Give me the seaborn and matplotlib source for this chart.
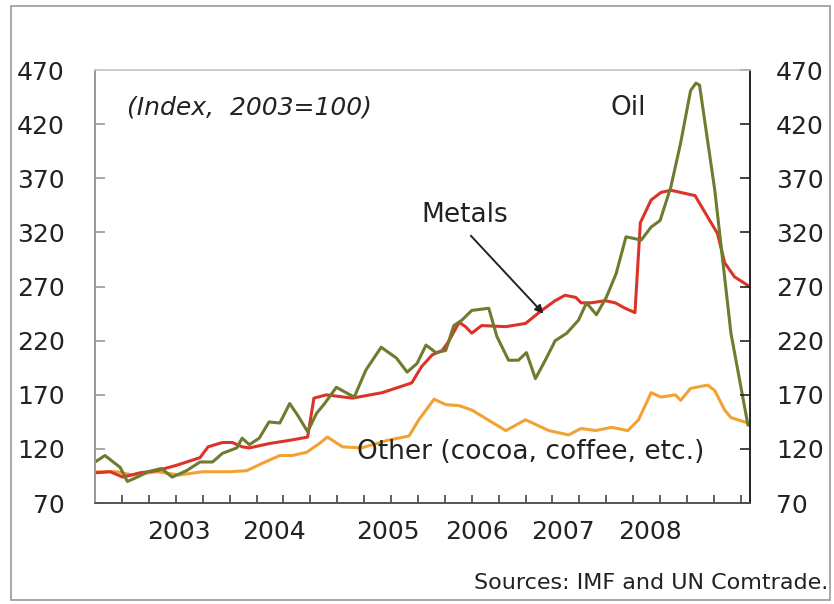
import matplotlib
matplotlib.use("Agg")
from matplotlib import pyplot as plt
from matplotlib.patches import Rectangle
import pandas as pd
import seaborn as sns

# months counted from the left edge of the chart, values as index (2003=100)
oil_month = [0, 1.1, 2.8, 3.6, 4.7, 5.9, 7.4, 8.6, 10.2, 11.7, 13.1, 14.2, 15.8, 16.4, 17.2,
             18.3, 19.4, 20.6, 21.7, 22.6, 23.7, 24.7, 25.6, 26.9, 28.0, 28.9, 30.2, 31.9,
             33.6, 34.8, 35.9, 36.9, 38.0, 39.1, 40.0, 40.9, 42.0, 43.9, 44.8, 46.1, 47.2,
             48.1, 49.1, 50.2, 51.3, 52.6, 53.9, 54.8, 55.9, 57.0, 58.1, 59.2, 60.9, 62.0,
             63.0, 64.2, 65.3, 66.4, 67.0, 67.4, 69.1, 70.9, 72.8]
oil_value = [108, 114, 103, 90, 94, 99, 102, 94, 100, 108, 108, 116, 121, 130, 124,
             130, 145, 144, 162, 151, 136, 153, 162, 177, 172, 168, 193, 214,
             204, 191, 199, 216, 209, 211, 234, 239, 248, 250, 224, 202, 202,
             209, 185, 202, 220, 227, 239, 255, 244, 260, 282, 316, 313, 325,
             331, 362, 403, 451, 458, 456, 359, 227, 142]

metals_month = [0, 1.7, 3.1, 5.0, 6.9, 9.1, 11.7, 12.6, 14.2, 15.3, 16.4, 17.2, 19.4, 21.7,
                23.7, 24.4, 25.8, 28.7, 32.0, 35.3, 36.4, 37.6, 38.7, 39.4, 40.6, 41.3,
                42.0, 43.1, 45.8, 48.0, 49.8, 51.3, 52.4, 53.6, 54.2, 55.3, 56.9, 58.0,
                59.1, 60.2, 60.8, 62.0, 63.1, 64.2, 66.9, 69.4, 70.2, 71.3, 73.0]
metals_value = [98, 99, 94, 98, 100, 105, 112, 122, 126, 126, 122, 121, 125, 128,
                131, 167, 170, 167, 172, 181, 196, 207, 211, 219, 237, 233,
                227, 234, 233, 236, 248, 257, 262, 260, 255, 255, 257, 255,
                250, 246, 329, 350, 357, 359, 354, 319, 292, 279, 270]

other_month = [0, 2.4, 4.2, 6.9, 9.4, 12.0, 15.0, 16.9, 18.7, 20.6, 22.0, 23.6, 25.0, 25.9,
               27.6, 29.7, 32.6, 35.0, 36.1, 37.8, 39.1, 40.6, 42.0, 43.6, 45.8, 48.0,
               50.6, 52.8, 54.2, 55.8, 57.6, 59.4, 60.6, 62.0, 63.1, 64.7, 65.3, 66.4,
               68.3, 69.1, 70.2, 70.9, 72.8]
other_value = [99, 99, 96, 99, 96, 99, 99, 100, 107, 114, 114, 117, 125, 131,
               122, 121, 128, 132, 147, 166, 161, 160, 156, 148, 137, 147,
               137, 133, 139, 137, 140, 137, 147, 172, 168, 170, 165, 176,
               179, 174, 156, 149, 144]

year_labels = ["2003", "2004", "2005", "2006", "2007", "2008"]
year_pos = [9.4, 20.0, 32.6, 42.6, 52.2, 61.9]
y_ticks = [70, 120, 170, 220, 270, 320, 370, 420, 470]

series = pd.concat([
    pd.DataFrame({"month": oil_month, "value": oil_value, "name": "Oil"}),
    pd.DataFrame({"month": metals_month, "value": metals_value, "name": "Metals"}),
    pd.DataFrame({"month": other_month, "value": other_value, "name": "Other"}),
])
colours = {"Oil": "#6f7b2e", "Metals": "#dc3328", "Other": "#f2a233"}

sns.set_style("white", {"xtick.bottom": True, "ytick.left": True})
plt.rcParams["font.family"] = ["DejaVu Sans"]

fig = plt.figure(figsize=(8.34, 6.04), dpi=100)
ax = fig.add_axes([0.114, 0.167, 0.785, 0.717])

# draw the orange first so the red and green sit on top of it
for name in ["Other", "Metals", "Oil"]:
    sns.lineplot(data=series[series["name"] == name], x="month", y="value",
                 color=colours[name], linewidth=2.2, ax=ax, sort=False,
                 estimator=None, legend=False)

ax.set_xlim(0, 73)
ax.set_ylim(70, 470)
ax.set_xlabel("")
ax.set_ylabel("")

ax2 = ax.twinx()
ax2.set_ylim(70, 470)

# quarter marks on the axis, year names between them
ax.set_xticks(range(3, 73, 3))
ax.set_xticklabels([])
ax.set_xticks(year_pos, minor=True)
ax.set_xticklabels(year_labels, minor=True, fontsize=18, color="#222222")
ax.tick_params(axis="x", which="major", bottom=True, direction="in", length=6,
               width=1.2, color="#444444")
ax.tick_params(axis="x", which="minor", bottom=True, length=0, pad=12)

ax.set_yticks(y_ticks)
ax.set_yticklabels(y_ticks, fontsize=18, color="#222222")
ax.tick_params(axis="y", left=True, direction="in", length=7, width=1.2,
               color="#999999", pad=22)

ax2.set_yticks(y_ticks)
ax2.set_yticklabels(y_ticks, fontsize=18, color="#222222")
ax2.tick_params(axis="y", right=True, direction="in", length=7, width=1.2,
                color="#222222", pad=19)

for a in (ax, ax2):
    a.spines["left"].set_color("#999999")
    a.spines["top"].set_color("#cccccc")
    a.spines["right"].set_color("#222222")
    a.spines["bottom"].set_color("#555555")
    for s in a.spines.values():
        s.set_linewidth(1.2)
        s.set_visible(True)

ax.text(3.6, 435, "(Index,  2003=100)", fontsize=18, fontstyle="italic",
        va="center", ha="left", color="#222222")
ax.text(59.4, 435, "Oil", fontsize=19, va="center", ha="center", color="#222222")
ax.text(41.2, 336, "Metals", fontsize=19, va="center", ha="center", color="#222222")
ax.annotate("", xy=(50.0, 245), xytext=(41.9, 317),
            arrowprops=dict(arrowstyle="-|>", color="#222222", lw=1.4,
                            mutation_scale=12, shrinkA=0, shrinkB=0))
ax.text(29.2, 117, "Other (cocoa, coffee, etc.)", fontsize=19, va="center",
        ha="left", color="#222222")

fig.text(0.993, 0.035, "Sources: IMF and UN Comtrade.", fontsize=16,
         ha="right", va="center", color="#222222")
fig.patches.append(Rectangle((0.013, 0.007), 0.982, 0.983, transform=fig.transFigure,
                             fill=False, edgecolor="#999999", linewidth=1.2))

fig.savefig("out.png", dpi=100)
